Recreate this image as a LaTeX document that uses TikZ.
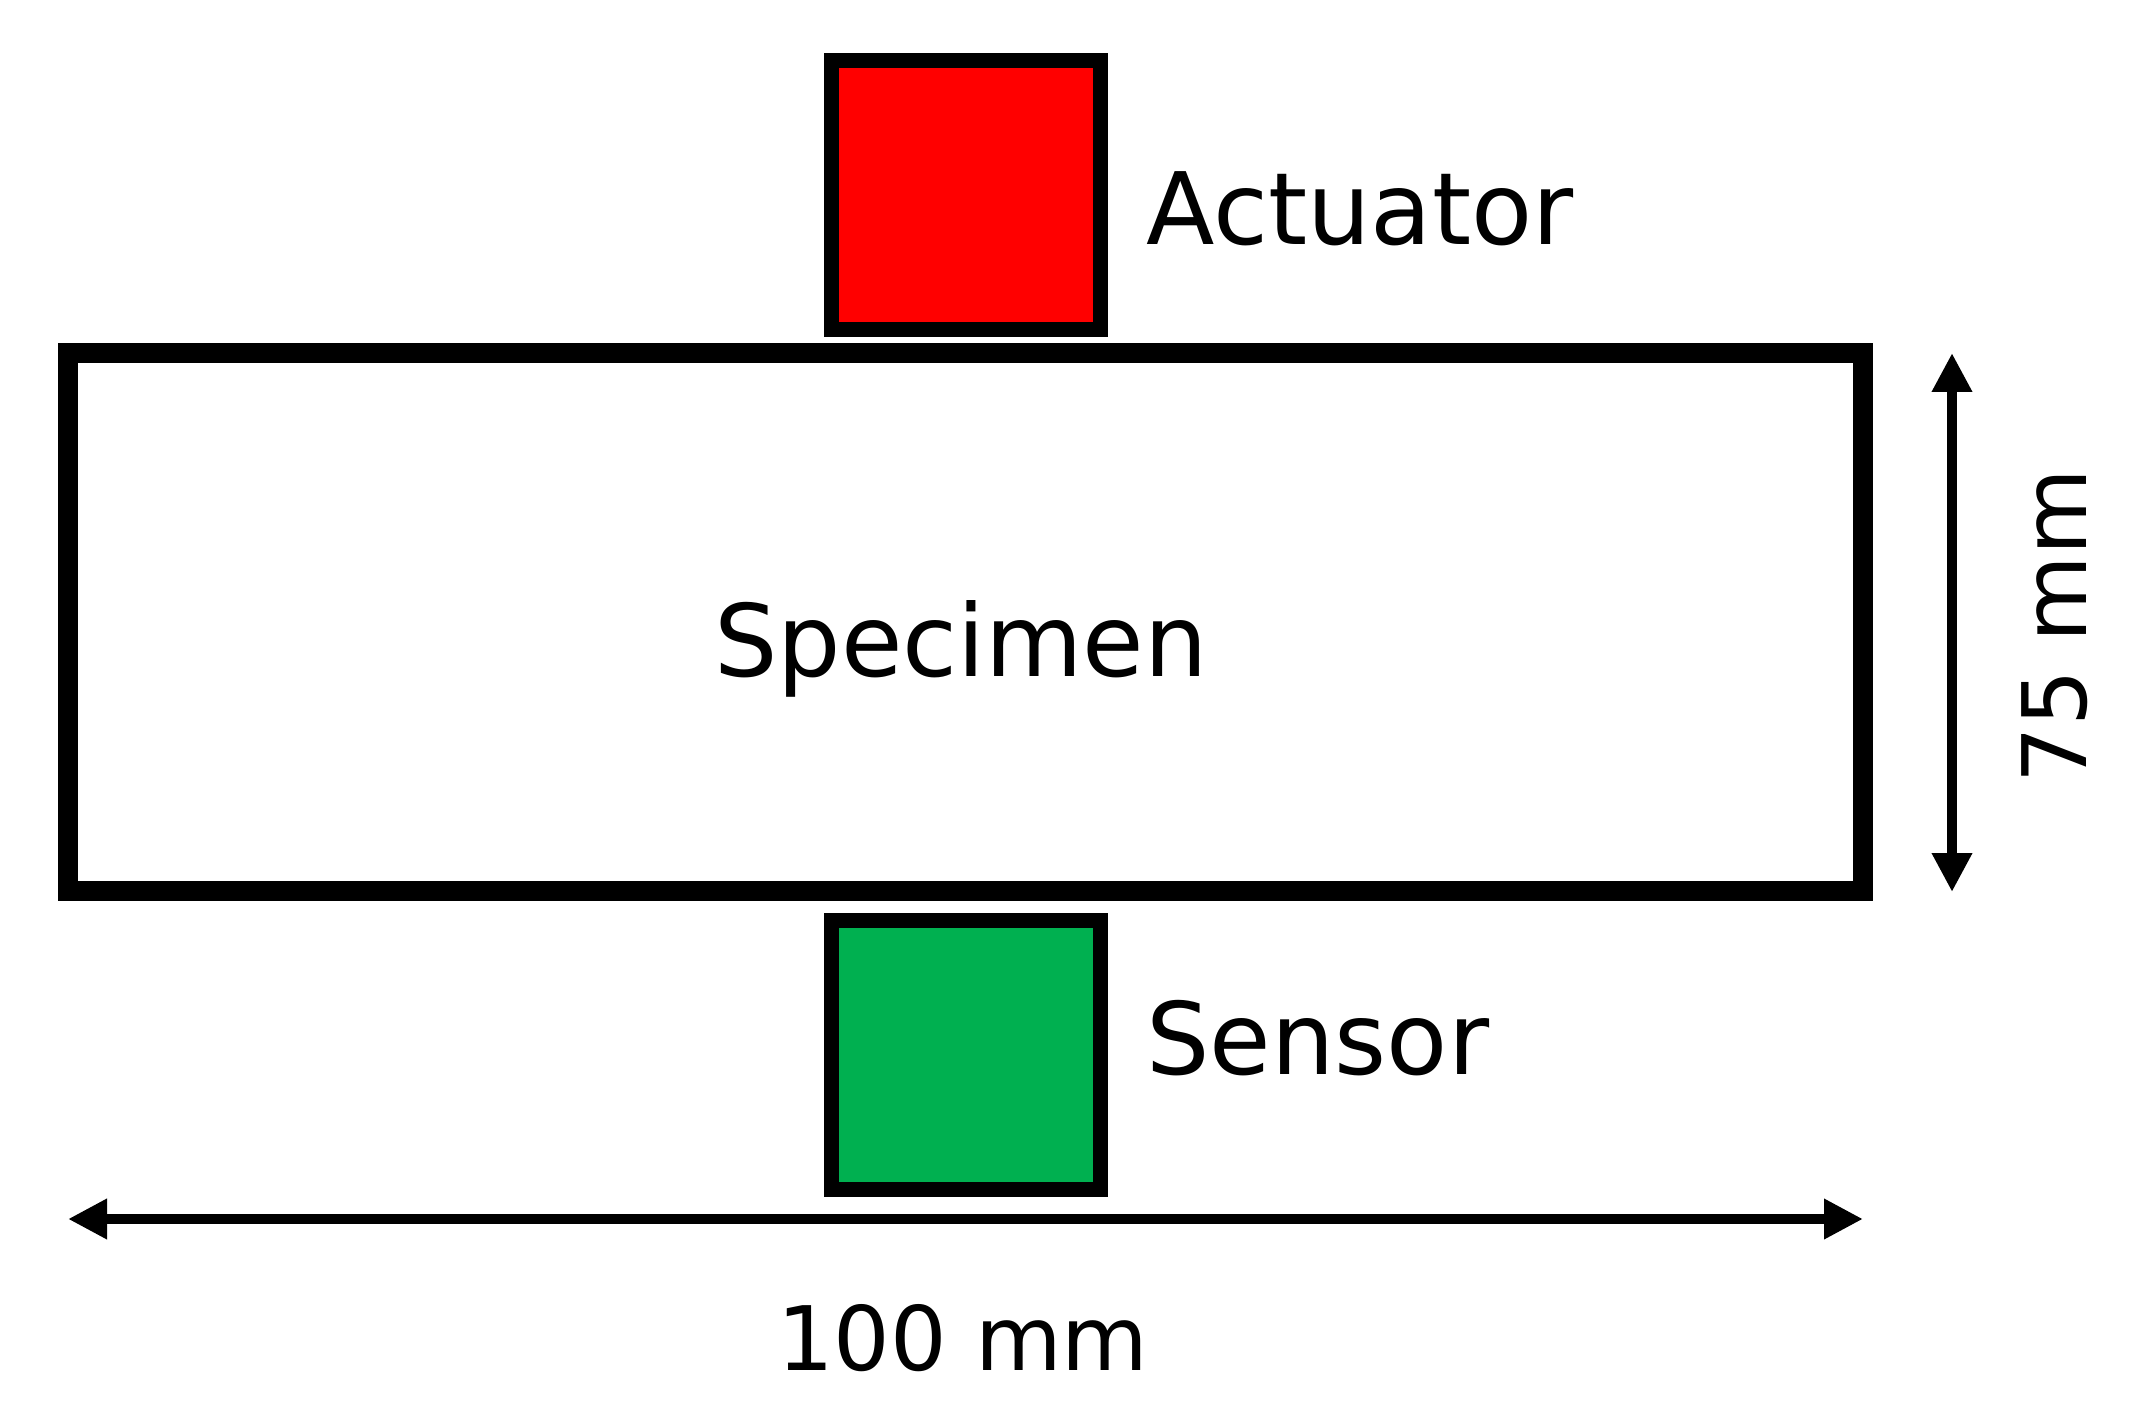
\documentclass[tikz,border=0pt]{standalone}
\usepackage{fontspec}
\setmainfont{DejaVu Sans}
\usetikzlibrary{arrows.meta}
\definecolor{actred}{RGB}{255,0,0}
\definecolor{sengreen}{RGB}{0,176,80}
\begin{document}
\begin{tikzpicture}[x=0.5pt,y=-0.5pt,
  box/.style={draw=black, line width=7.5pt, minimum width=134.5pt, minimum height=134.5pt, inner sep=0pt},
  lbl/.style={inner sep=0pt, font=\fontsize{50pt}{60pt}\selectfont},
  dimlbl/.style={inner sep=0pt, font=\fontsize{44.5pt}{53pt}\selectfont},
  dimarrow/.style={line width=5pt, {Triangle[length=19.5pt,width=19pt]}-{Triangle[length=19.5pt,width=19pt]}}]
\useasboundingbox (0,0) rectangle (2143,1427);
\node[draw=black, line width=10pt, minimum width=897.5pt, minimum height=269pt, inner sep=0pt] (spec) at (965.5,622) {};
\node[box, fill=actred] (act) at (966,195) {};
\node[box, fill=sengreen] (sen) at (966,1055) {};
\node[lbl, anchor=base west] (actl) at (1146,245) {Actuator};
\node[lbl, anchor=base] (specl) at (961,677) {Specimen};
\node[lbl, anchor=base west] (senl) at (1146,1074) {Sensor};
\coordinate (hl) at (68,1219);
\coordinate (hr) at (1863,1219);
\coordinate (vt) at (1952,353);
\coordinate (vb) at (1952,892);
\draw[dimarrow] (hl) -- (hr);
\draw[dimarrow] (vt) -- (vb);
\node[dimlbl, anchor=base] (wlab) at (963,1370) {100 mm};
\node[dimlbl, anchor=base, rotate=90] (hlab) at (2086,626) {75 mm};
\end{tikzpicture}
\end{document}
